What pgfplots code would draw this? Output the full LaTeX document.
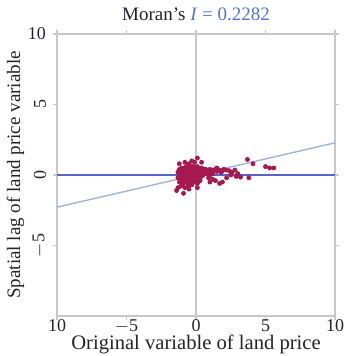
\documentclass[border=0pt]{standalone}
\usepackage{fontspec}
\setmainfont{Liberation Serif}
\usepackage{graphicx}
\usepackage{pgfplots}
\pgfplotsset{compat=1.18}
\definecolor{pt}{RGB}{165,25,80}
\definecolor{regl}{RGB}{160,180,225}
\definecolor{hline}{RGB}{90,100,200}
\definecolor{frame}{RGB}{200,200,200}
\definecolor{ttl}{RGB}{80,120,200}
\definecolor{txt}{RGB}{35,35,45}
\begin{document}
\begin{tikzpicture}
\begin{axis}[
  scale only axis, width=139pt, height=141pt,
  xmin=-10, xmax=10, ymin=-10, ymax=10,
  axis line style={frame, line width=0.8pt},
  tick style={frame, line width=0.6pt},
  tick align=outside, major tick length=2pt,
  xtick={-10,-5,0,5,10},
  xticklabels={10,$-$5,0,5,10},
  ytick={-5,0,5,10},
  yticklabels={\rotatebox{90}{$-$5},\rotatebox{90}{0},\rotatebox{90}{5},10},
  yticklabel style={font=\fontsize{9}{10}\selectfont, text=txt},
  xticklabel style={font=\fontsize{9}{9}\selectfont, text=txt, anchor=base, yshift=-6pt, inner sep=0pt},
  /pgf/number format/assume math mode=true,
  title={\textcolor{txt}{Moran's} \textcolor{ttl}{\textit{I} = 0.2282}},
  title style={font=\fontsize{9.5}{11}\selectfont, yshift=-3pt},
  xlabel={Original variable of land price},
  ylabel={Spatial lag of land price variable},
  label style={font=\fontsize{9.5}{10}\selectfont, text=txt},
  xlabel style={at={(axis description cs:0.5,0)}, anchor=base, yshift=-16.5pt, inner sep=0pt, font=\fontsize{10.3}{11}\selectfont},
  ylabel style={yshift=-5pt},
  clip=true,
]
\coordinate (sw) at (rel axis cs:0,0);
\coordinate (ne) at (rel axis cs:1,1);
\addplot[frame, line width=0.6pt] coordinates {(0,-10) (0,10)};
\addplot[hline, line width=0.6pt] coordinates {(-10,0) (10,0)};
\addplot[regl, line width=0.7pt] coordinates {(-10,-2.282) (10,2.282)};
\addplot[only marks, mark=*, mark size=1.0pt, draw=pt, fill=pt] coordinates {
(-1.3,-0.2)(-1.2,0.1)(-1.2,-0.5)(-1.1,0.3)(-1.1,-0.8)(-1.0,0.0)(-1.0,-0.3)(-1.0,0.5)
(-0.9,-0.6)(-0.9,0.2)(-0.9,-0.1)(-0.8,0.4)(-0.8,-0.4)(-0.8,-0.9)(-0.7,0.1)(-0.7,-0.2)
(-0.7,0.6)(-0.6,-0.5)(-0.6,0.3)(-0.6,0.0)(-0.5,-0.7)(-0.5,0.2)(-0.5,-0.3)(-0.4,0.5)
(-0.4,-0.1)(-0.4,-0.6)(-0.3,0.3)(-0.3,0.0)(-0.3,-0.4)(-0.2,0.6)(-0.2,-0.2)(-0.2,0.1)
(-0.1,-0.5)(-0.1,0.4)(-0.1,0.0)(0.0,0.2)(0.0,-0.3)(0.0,0.5)(0.1,-0.1)(0.1,0.3)
(0.1,-0.6)(0.2,0.1)(0.2,0.4)(0.2,-0.3)(0.3,0.0)(0.3,0.3)(0.3,-0.4)(0.4,0.2)
(0.4,0.5)(0.4,-0.1)(0.5,0.3)(0.5,0.0)(0.6,0.4)(0.6,0.1)(0.7,0.2)(0.7,0.4)(0.8,0.3)(0.8,0.1)
(-1.2,-0.1)(-1.1,-0.3)(-1.0,-0.6)(-0.9,0.0)(-0.8,0.1)(-0.7,-0.5)(-0.6,-0.8)(-0.5,0.0)
(-0.4,0.2)(-0.3,-0.7)(-0.2,-0.5)(-0.1,0.2)(0.0,0.0)(0.1,0.1)(0.2,-0.1)(0.3,0.1)
(-1.3,0.2)(-1.2,0.4)(-0.6,0.5)(-0.3,0.6)(0.1,0.6)(-0.8,-0.2)(-0.5,-0.5)(-1.1,0.0)
(-0.95,-0.45)(-0.65,-0.25)(-0.35,-0.15)(-0.15,-0.35)(0.05,0.35)(0.25,0.25)
(-1.05,0.15)(-0.85,0.25)(-0.45,0.35)(-0.25,0.45)(0.15,0.45)
(-0.5,0.8)(-0.1,0.9)(0.1,1.2)(-0.3,1.0)(0.4,0.9)(-1.2,0.8)(-0.8,0.9)
(-1.4,-1.1)(-0.9,-1.3)(-0.5,-1.0)(-1.3,-0.9)(0.1,-0.9)
(0.9,0.3)(1.0,0.4)(1.1,0.2)(1.2,0.35)(1.3,0.3)(1.4,0.4)(1.5,0.25)(1.6,0.3)
(1.7,0.35)(1.8,0.2)(1.9,0.3)(2.0,0.4)(2.2,0.35)(2.4,0.3)(2.6,0.2)(2.8,0.35)
(3.0,0.1)(2.9,-0.1)(3.2,-0.15)(2.5,0.0)(1.0,0.0)(1.2,0.1)(1.5,0.5)(0.9,-0.2)
(1.0,-0.5)(1.4,-0.4)(1.7,-0.6)(1.9,-0.5)(1.2,-0.3)(2.2,-0.2)
(3.7,1.1)(4.1,0.8)(5.0,0.6)(5.3,0.5)(5.6,0.5)(3.8,-0.2)
};
\end{axis}
\pgfresetboundingbox
\path ([shift={(-28.5pt,-20pt)}]sw) rectangle ([shift={(5.5pt,17pt)}]ne);
\end{tikzpicture}
\end{document}
